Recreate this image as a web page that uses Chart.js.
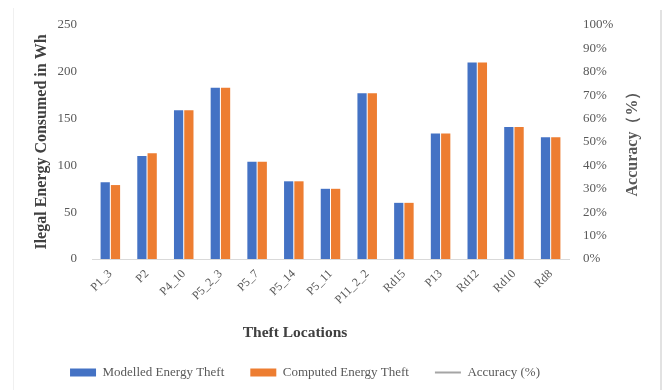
<!DOCTYPE html>
<html>
<head>
<meta charset="utf-8">
<script src="https://cdn.jsdelivr.net/npm/chart.js@4/dist/chart.umd.min.js"></script>
<style>
  html, body { margin: 0; padding: 0; background: #ffffff; }
  #wrap { position: relative; width: 664px; height: 390px; }
  #wrap canvas { position: absolute; left: 0; top: 0; }
  .edge { position: absolute; top: 8px; bottom: 0; width: 1px; }
  .edge.left { left: 13px; background: #f0f0f0; }
  .edge.right { left: 660px; top: 10px; width: 2px; background: #e2e2e2; }
</style>
</head>
<body>
<div id="wrap">
  <canvas id="c" width="664" height="390"></canvas>
  <div class="edge left"></div>
  <div class="edge right"></div>
</div>
<script>
// Theft locations along the feeder
const locations = ['P1_3', 'P2', 'P4_10', 'P5_2_3', 'P5_7', 'P5_14', 'P5_11',
                   'P11_2_2', 'Rd15', 'P13', 'Rd12', 'Rd10', 'Rd8'];

// Illegal energy (Wh) per location
const modelledTheft = [82, 110, 159, 183, 104, 83, 75, 177, 60, 134, 210, 141, 130];
const computedTheft = [79, 113, 159, 183, 104, 83, 75, 177, 60, 134, 210, 141, 130];

// Accuracy series (no values plotted)
const accuracy = [null, null, null, null, null, null, null, null, null, null, null, null, null];

// Axis ticks
const energyTicks = [0, 50, 100, 150, 200, 250];
const accuracyTicks = [0, 10, 20, 30, 40, 50, 60, 70, 80, 90, 100];

const SERIF = '"Liberation Serif", "Times New Roman", serif';
const GREY = '#595959';
const DARK = '#404040';

// Legend placement and the titles of the bottom and right axes
const axisTitles = {
  id: 'axisTitles',
  afterLayout(chart) {
    const lg = chart.legend;
    const dx = -27;
    lg.left += dx; lg.right += dx;
    const targetTop = 340;
    const h = lg.bottom - lg.top;
    lg.top = targetTop; lg.bottom = targetTop + h;
  },
  afterDraw(chart) {
    const ctx = chart.ctx;
    const area = chart.chartArea;
    ctx.save();
    ctx.fillStyle = DARK;
    ctx.font = 'bold 15.5px ' + SERIF;
    ctx.textAlign = 'center';
    ctx.textBaseline = 'middle';
    ctx.fillText('Theft Locations', 295, 333);

    ctx.fillStyle = GREY;
    ctx.font = 'bold 16px ' + SERIF;
    ctx.translate(633, (area.top + area.bottom) / 2 - 2);
    ctx.rotate(-Math.PI / 2);
    ctx.fillText('Accuracy（%）', 0, 0);
    ctx.restore();
  }
};

new Chart(document.getElementById('c'), {
  data: {
    labels: locations,
    datasets: [
      {
        type: 'bar',
        label: 'Modelled Energy Theft',
        data: modelledTheft,
        backgroundColor: '#4472C4',
        borderWidth: 0,
        pointStyle: 'rect',
        yAxisID: 'y',
        categoryPercentage: 0.56,
        barPercentage: 0.9
      },
      {
        type: 'bar',
        label: 'Computed Energy Theft',
        data: computedTheft,
        backgroundColor: '#ED7D31',
        borderWidth: 0,
        pointStyle: 'rect',
        yAxisID: 'y',
        categoryPercentage: 0.56,
        barPercentage: 0.9
      },
      {
        type: 'line',
        label: 'Accuracy (%)',
        data: accuracy,
        borderColor: '#A5A5A5',
        backgroundColor: '#A5A5A5',
        borderWidth: 2,
        pointStyle: 'line',
        pointRadius: 0,
        yAxisID: 'y1'
      }
    ]
  },
  options: {
    responsive: false,
    animation: false,
    layout: { padding: { top: 25, left: 0, right: 0, bottom: 0 } },
    plugins: {
      tooltip: { enabled: false },
      legend: {
        position: 'bottom',
        labels: {
          usePointStyle: true,
          pointStyleWidth: 26,
          boxHeight: 8,
          padding: 26,
          color: GREY,
          font: { family: SERIF, size: 13 }
        }
      }
    },
    scales: {
      x: {
        grid: { display: false },
        border: { display: true, color: '#D9D9D9', width: 1 },
        ticks: {
          color: GREY,
          font: { family: SERIF, size: 12 },
          maxRotation: 45,
          minRotation: 45,
          padding: 0
        },
        afterFit(scale) { scale.height = 82; }
      },
      y: {
        position: 'left',
        min: 0,
        max: 250,
        grid: { display: false },
        border: { display: false },
        afterBuildTicks(scale) { scale.ticks = energyTicks.map(v => ({ value: v })); },
        ticks: {
          color: GREY,
          padding: 7,
          font: { family: SERIF, size: 13 }
        },
        title: {
          display: true,
          text: 'Ilegal Energy Consumed in Wh',
          color: DARK,
          font: { family: SERIF, size: 16, weight: 'bold' },
          padding: { top: 32, bottom: 0 }
        },
        afterFit(scale) { scale.width = 92; }
      },
      y1: {
        position: 'right',
        min: 0,
        max: 100,
        grid: { display: false, drawOnChartArea: false },
        border: { display: false },
        afterBuildTicks(scale) { scale.ticks = accuracyTicks.map(v => ({ value: v })); },
        ticks: {
          color: GREY,
          padding: 6,
          font: { family: SERIF, size: 13 },
          callback: v => v + '%'
        },
        afterFit(scale) { scale.width = 95; }
      }
    }
  },
  plugins: [axisTitles]
});
</script>
</body>
</html>
